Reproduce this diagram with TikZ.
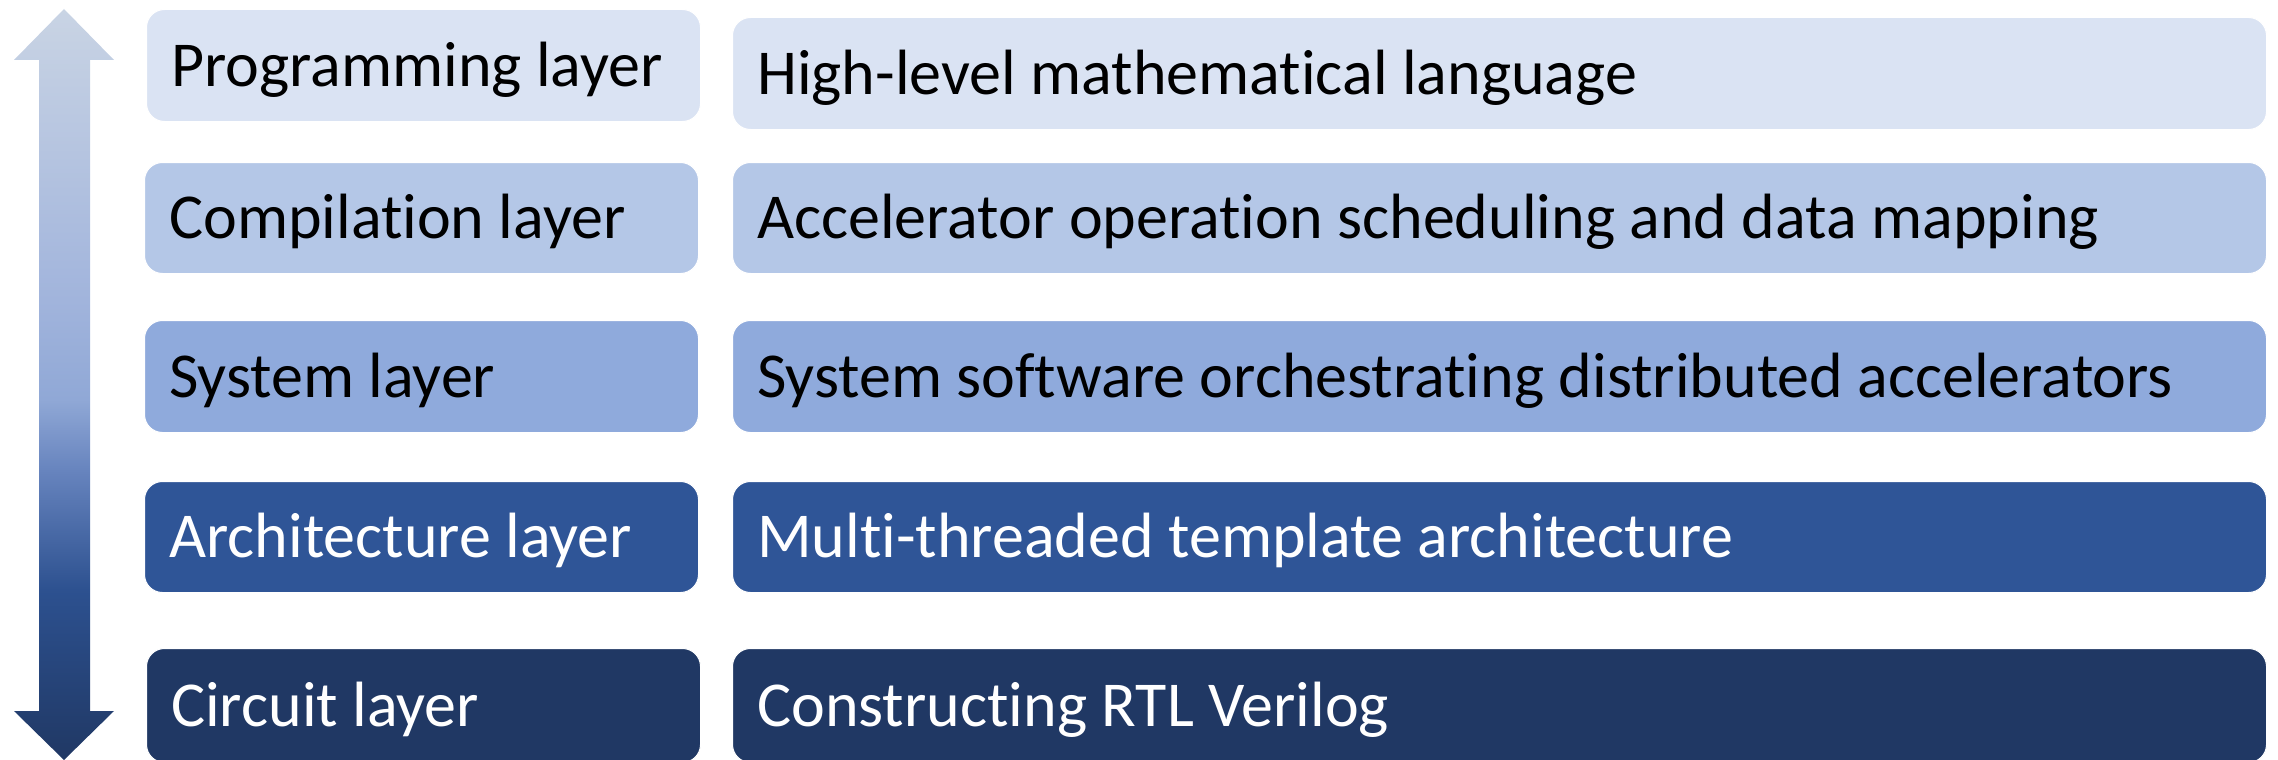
\documentclass[tikz,border=0pt]{standalone}
\usepackage{fontspec}
\setmainfont{Carlito}[Ligatures={NoCommon}]
\definecolor{cA}{HTML}{DAE3F3}
\definecolor{cB}{HTML}{B4C7E7}
\definecolor{cC}{HTML}{8FAADC}
\definecolor{cD}{HTML}{2F5597}
\definecolor{cE}{HTML}{203864}
\pgfdeclareverticalshading{arrowshade}{100bp}{%
  color(0bp)=(cE); color(25bp)=(cE);
  color(36.3bp)=(cD!95!black);
  color(44.3bp)=({rgb,255:red,103;green,132;blue,190});
  color(49bp)=({rgb,255:red,144;green,168;blue,214});
  color(55.6bp)=({rgb,255:red,161;green,180;blue,220});
  color(75bp)=({rgb,255:red,201;green,212;blue,228});
  color(100bp)=({rgb,255:red,201;green,212;blue,228})}
\begin{document}
\begin{tikzpicture}[x=1pt,y=-1pt]
\useasboundingbox (0,0) rectangle (2278,760);
\tikzset{
  layerbox/.style={rectangle, rounded corners=18pt, draw=white, line width=1pt,
    inner sep=0pt, anchor=north west},
  leftbox/.style={layerbox, minimum width=554pt},
  rightbox/.style={layerbox, minimum width=1534pt},
  boxtext/.style={anchor=base west, inner sep=0pt, xshift=25pt, yshift=-20.5pt,
    font=\fontsize{64}{76}\selectfont},
}
% arrow
\shade[shading=arrowshade] (64,9) -- (114,60) -- (90,60) -- (90,711) -- (114,711)
  -- (64,760) -- (14,711) -- (39,711) -- (39,60) -- (14,60) -- cycle;
% row 1
\node[leftbox, fill=cA, minimum height=112pt] (pl) at (146,9) {};
\node[rightbox, fill=cA, minimum height=112pt] (pr) at (732,17) {};
\node[boxtext, text=black] (plt) at (pl.west) {Programming layer};
\node[boxtext, text=black] (prt) at (pr.west) {High-level mathematical language};
% row 2
\node[leftbox, fill=cB, minimum height=111pt] (cl) at (144,162) {};
\node[rightbox, fill=cB, minimum height=111pt] (cr) at (732,162) {};
\node[boxtext, text=black] (clt) at (cl.west) {Compilation layer};
\node[boxtext, text=black] (crt) at (cr.west) {Accelerator operation scheduling and data mapping};
% row 3
\node[leftbox, fill=cC, minimum height=112pt] (sl) at (144,320) {};
\node[rightbox, fill=cC, minimum height=112pt] (sr) at (732,320) {};
\node[boxtext, text=black] (slt) at (sl.west) {System layer};
\node[boxtext, text=black] (srt) at (sr.west) {System software orchestrating distributed accelerators};
% row 4
\node[leftbox, fill=cD, minimum height=111pt] (al) at (144,481) {};
\node[rightbox, fill=cD, minimum height=111pt] (ar) at (732,481) {};
\node[boxtext, text=white] (alt) at (al.west) {Architecture layer};
\node[boxtext, text=white] (art) at (ar.west) {Multi-threaded template architecture};
% row 5
\node[leftbox, fill=cE, minimum height=114pt] (ul) at (146,648) {};
\node[rightbox, fill=cE, minimum height=114pt] (ur) at (732,648) {};
\node[boxtext, text=white] (ult) at (ul.west) {Circuit layer};
\node[boxtext, text=white] (urt) at (ur.west) {Constructing RTL Verilog};
\end{tikzpicture}
\end{document}
